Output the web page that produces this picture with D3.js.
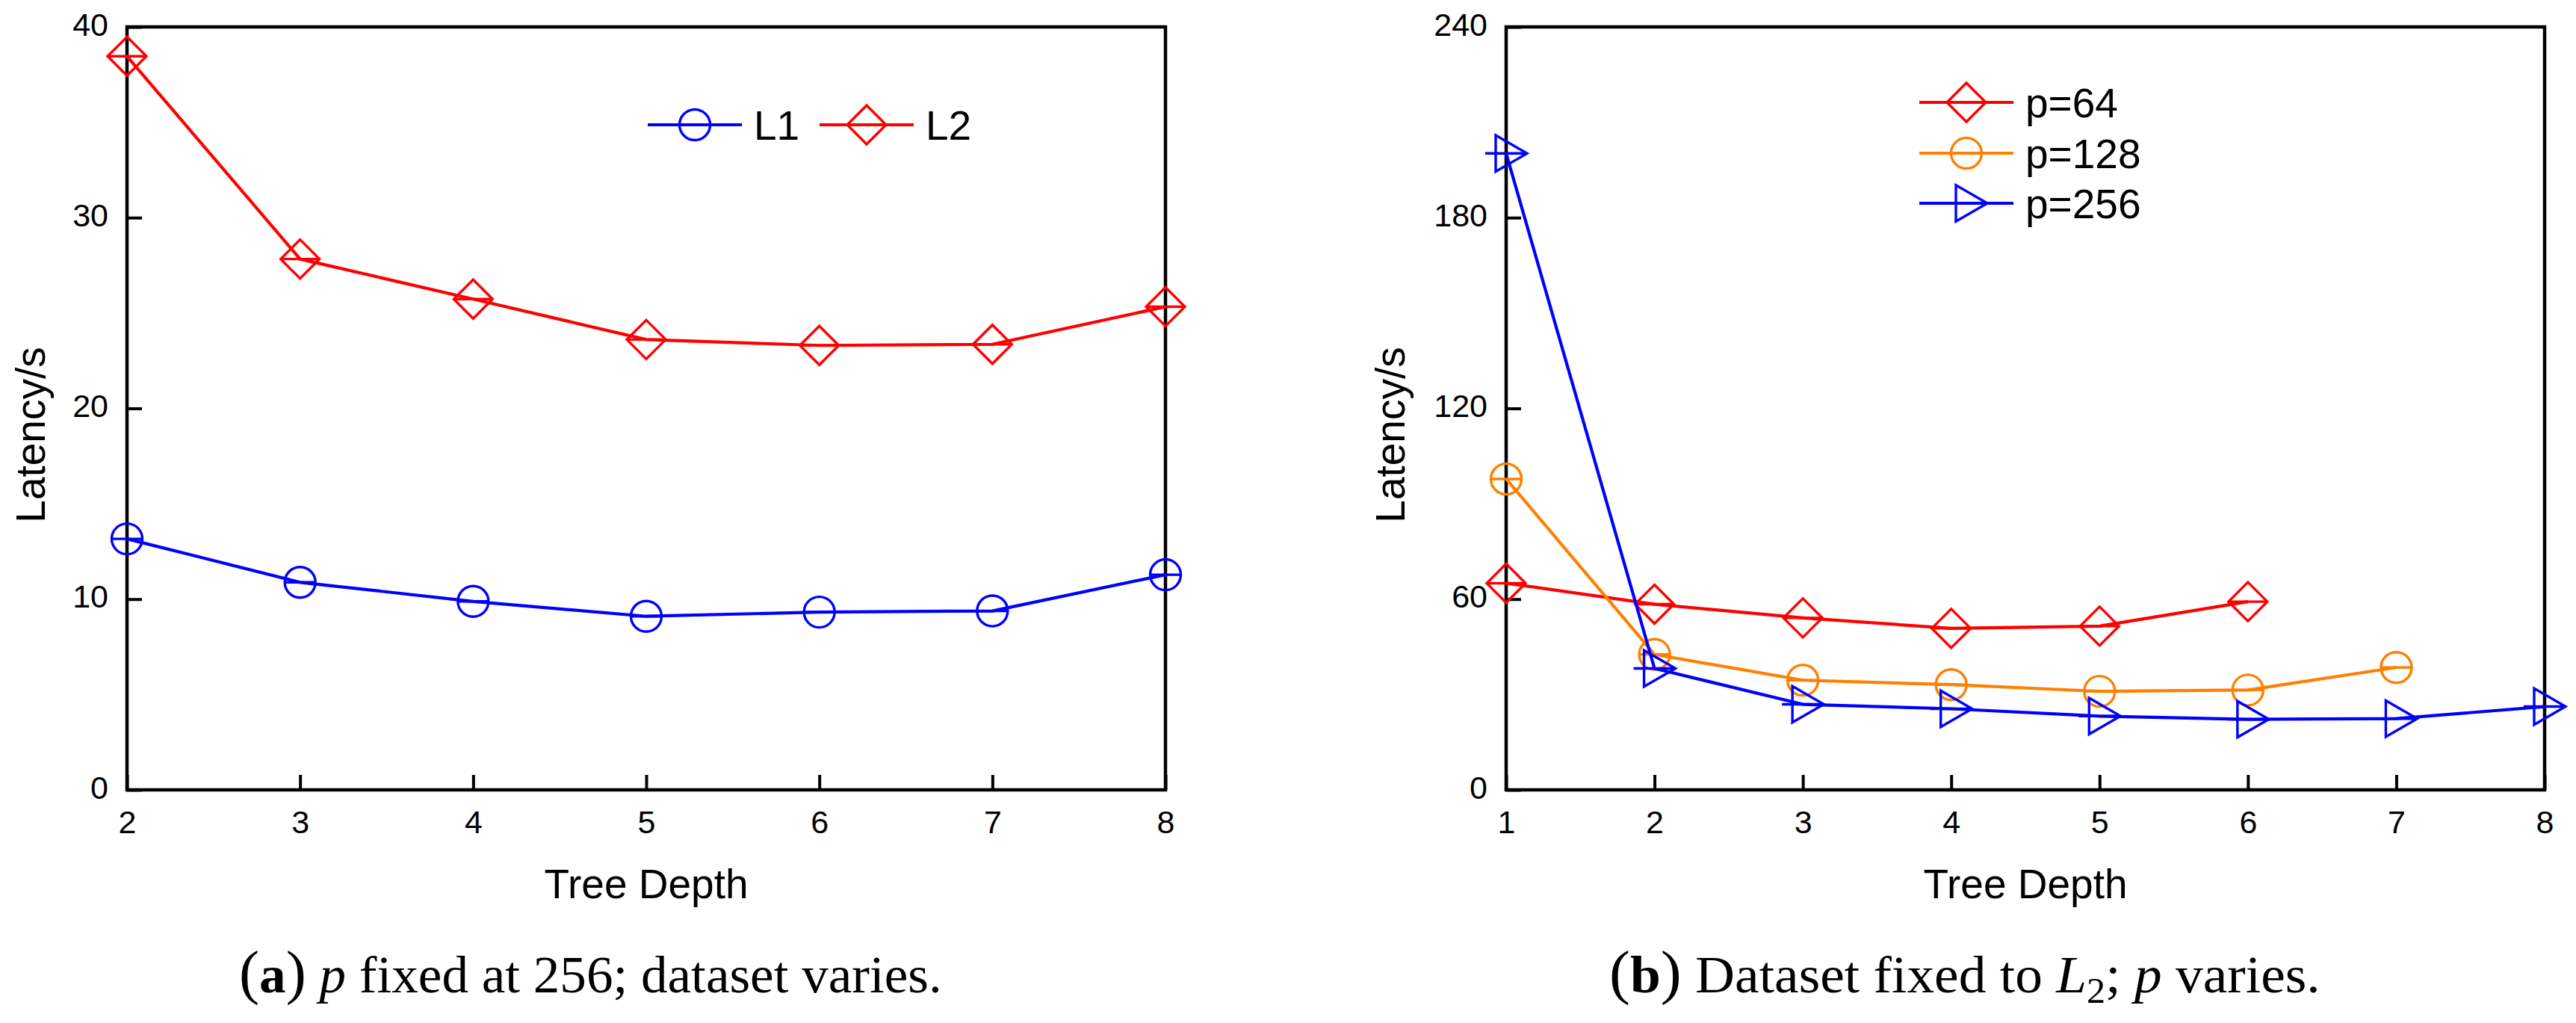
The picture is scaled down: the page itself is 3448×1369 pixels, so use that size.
<!DOCTYPE html>
<html>
<head>
<meta charset="utf-8">
<script src="https://cdn.jsdelivr.net/npm/d3@7"></script>
<style>
html,body{margin:0;padding:0;background:#fff;}
svg{display:block;}
</style>
</head>
<body>
<svg id="chart" width="3448" height="1369"></svg>
<script>
// ---------- data ----------
const depthA = [2, 3, 4, 5, 6, 7, 8];
const seriesL1 = [13.16, 10.88, 9.88, 9.10, 9.32, 9.38, 11.28];
const seriesL2 = [38.46, 27.83, 25.73, 23.61, 23.30, 23.36, 25.33];

const depthB = [1, 2, 3, 4, 5, 6, 7, 8];
const seriesP64 = [65.0, 58.4, 54.1, 50.8, 51.5, 59.2];
const seriesP128 = [97.8, 42.6, 34.5, 33.1, 31.0, 31.4, 38.5];
const seriesP256 = [200.2, 38.2, 26.9, 25.5, 23.2, 22.2, 22.4, 26.2];

const ticksAY = [0, 10, 20, 30, 40];
const ticksBY = [0, 60, 120, 180, 240];
const labelsA = ["L1", "L2"];
const labelsB = ["p=64", "p=128", "p=256"];
const axisXTitle = "Tree Depth";
const axisYTitle = "Latency/s";

// ---------- style ----------
const SANS = "'Liberation Sans', Arial, sans-serif";
const SERIF = "'Liberation Serif', 'Times New Roman', serif";
const BLUE = "#0000ff", RED = "#ff0000", ORANGE = "#ff8000";
const LINE_W = 4.2, MARK_W = 3.4;

const svg = d3.select("#chart");

function markerPath(shape) {
  const p = d3.path();
  if (shape === "circle") {
    const r = 20.5;
    p.moveTo(r, 0); p.arc(0, 0, r, 0, Math.PI * 2);
    p.moveTo(-r, 0); p.lineTo(r, 0);
  } else if (shape === "diamond") {
    const r = 26;
    p.moveTo(0, -r); p.lineTo(r, 0); p.lineTo(0, r); p.lineTo(-r, 0); p.closePath();
    p.moveTo(-r, 0); p.lineTo(r, 0);
  } else { // right triangle
    const r = 28, h = r * Math.sqrt(3) / 2;
    p.moveTo(r, 0); p.lineTo(-r / 2, -h); p.lineTo(-r / 2, h); p.closePath();
    p.moveTo(-r, 0); p.lineTo(r, 0);
  }
  return p.toString();
}

function panel(cfg) {
  const g = svg.append("g");
  const x = d3.scaleLinear().domain(cfg.xDomain).range([cfg.left, cfg.right]);
  const y = d3.scaleLinear().domain(cfg.yDomain).range([cfg.bottom, cfg.top]);

  // axes (inward ticks)
  const ay = g.append("g").attr("transform", `translate(${cfg.left},0)`)
    .call(d3.axisLeft(y).tickValues(cfg.yTicks).tickSize(-20).tickPadding(25).tickFormat(d3.format("d")));
  ay.select(".domain").remove();
  ay.selectAll(".tick line").attr("stroke", "#000").attr("stroke-width", 4);
  ay.selectAll(".tick text").attr("dy", 11).attr("fill", "#000")
    .attr("font-family", SANS).attr("font-size", 43);

  const ax = g.append("g").attr("transform", `translate(0,${cfg.bottom})`)
    .call(d3.axisBottom(x).tickValues(cfg.xTicks).tickSize(-20).tickPadding(25).tickFormat(d3.format("d")));
  ax.select(".domain").remove();
  ax.selectAll(".tick line").attr("stroke", "#000").attr("stroke-width", 4);
  ax.selectAll(".tick text").attr("y", 58).attr("dy", 0).attr("fill", "#000")
    .attr("font-family", SANS).attr("font-size", 43);

  // frame
  g.append("rect").attr("x", cfg.left).attr("y", cfg.top)
    .attr("width", cfg.right - cfg.left).attr("height", cfg.bottom - cfg.top)
    .attr("fill", "none").attr("stroke", "#000").attr("stroke-width", 4.5);

  // titles
  g.append("text").attr("x", (cfg.left + cfg.right) / 2).attr("y", cfg.bottom + 145)
    .attr("text-anchor", "middle").attr("font-family", SANS).attr("font-size", 55)
    .text(axisXTitle);
  g.append("text")
    .attr("transform", `translate(${cfg.yTitleX},${cfg.yTitleY}) rotate(-90)`)
    .attr("text-anchor", "middle").attr("font-family", SANS).attr("font-size", 55)
    .text(axisYTitle);

  // series
  const line = d3.line().x(d => x(d[0])).y(d => y(d[1]));
  cfg.series.forEach(s => {
    const pts = s.values.map((v, i) => [cfg.xs[i], v]);
    g.append("path").attr("d", line(pts)).attr("fill", "none")
      .attr("stroke", s.color).attr("stroke-width", LINE_W).attr("stroke-linejoin", "round");
    g.selectAll(null).data(pts).enter().append("path")
      .attr("transform", d => `translate(${x(d[0])},${y(d[1])})`)
      .attr("d", markerPath(s.shape)).attr("fill", "none")
      .attr("stroke", s.color).attr("stroke-width", MARK_W);
  });

  // legend
  cfg.series.forEach((s, i) => {
    const L = cfg.legend[i];
    g.append("line").attr("x1", L.x0).attr("x2", L.x0 + 126).attr("y1", L.y).attr("y2", L.y)
      .attr("stroke", s.color).attr("stroke-width", LINE_W);
    g.append("path").attr("transform", `translate(${L.x0 + 63},${L.y})`)
      .attr("d", markerPath(s.shape)).attr("fill", "none")
      .attr("stroke", s.color).attr("stroke-width", MARK_W);
    g.append("text").attr("x", L.x0 + 142).attr("y", L.y + 20)
      .attr("font-family", SANS).attr("font-size", 55).text(s.label);
  });
}

panel({
  left: 170, right: 1560, top: 36, bottom: 1057,
  xDomain: [2, 8], yDomain: [0, 40],
  xTicks: depthA, yTicks: ticksAY, xs: depthA,
  yTitleX: 60, yTitleY: 582,
  series: [
    {label: labelsA[0], values: seriesL1, color: BLUE, shape: "circle"},
    {label: labelsA[1], values: seriesL2, color: RED, shape: "diamond"}
  ],
  legend: [{x0: 867, y: 167}, {x0: 1097, y: 167}]
});

panel({
  left: 2016, right: 3406, top: 36, bottom: 1057,
  xDomain: [1, 8], yDomain: [0, 240],
  xTicks: depthB, yTicks: ticksBY, xs: depthB,
  yTitleX: 1880, yTitleY: 582,
  series: [
    {label: labelsB[0], values: seriesP64, color: RED, shape: "diamond"},
    {label: labelsB[1], values: seriesP128, color: ORANGE, shape: "circle"},
    {label: labelsB[2], values: seriesP256, color: BLUE, shape: "triangle"}
  ],
  legend: [{x0: 2569, y: 137}, {x0: 2569, y: 205}, {x0: 2569, y: 272}]
});

// ---------- captions ----------
function caption(x0, width, parts) {
  const g = svg.append("g");
  const t = g.append("text").attr("x", 0).attr("y", 0)
    .attr("font-family", SERIF).attr("font-size", 70).attr("fill", "#000");
  parts.forEach(p => {
    const ts = t.append("tspan").text(p.t);
    if (p.b) ts.attr("font-weight", "bold");
    if (p.i) ts.attr("font-style", "italic");
    if (p.big) ts.attr("font-size", 80);
    if (p.sub) ts.attr("font-size", 48).attr("dy", 14);
    if (p.unsub) ts.attr("dy", -14);
  });
  const w = t.node().getComputedTextLength();
  g.attr("transform", `translate(${x0},1328) scale(${width / w},1)`);
}
caption(320, 941, [
  {t: "(", big: true}, {t: "a", b: true}, {t: ")", big: true}, {t: " "}, {t: "p", i: true},
  {t: " fixed at 256; dataset varies."}
]);
caption(2154, 952, [
  {t: "(", big: true}, {t: "b", b: true}, {t: ")", big: true}, {t: " Dataset fixed to "},
  {t: "L", i: true}, {t: "2", sub: true},
  {t: "; ", unsub: true}, {t: "p", i: true}, {t: " varies."}
]);
</script>
</body>
</html>
